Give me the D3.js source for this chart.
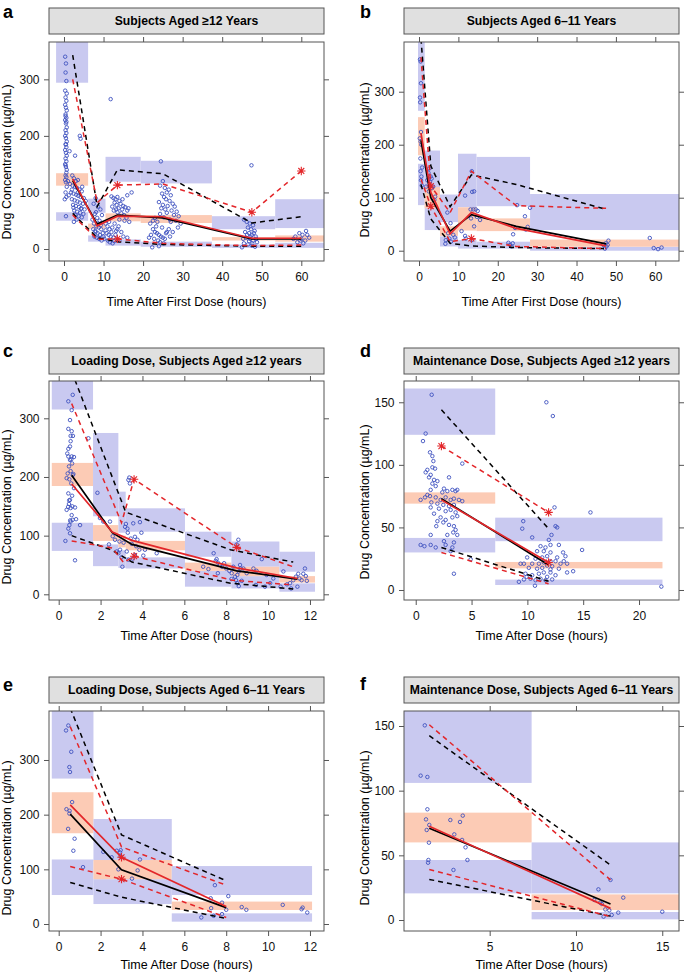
<!DOCTYPE html>
<html><head><meta charset="utf-8">
<script src="https://cdn.jsdelivr.net/npm/d3@7"></script>
<style>body{margin:0;background:#fff}svg{display:block}text{font-family:"Liberation Sans",Arial,Helvetica,sans-serif}</style>
</head><body><svg id="c" width="685" height="973"></svg>
<script>
// ---------- DATA ----------
// bins: [x0, x1, lower PI lo, lower PI hi, median PI lo, median PI hi, upper PI lo, upper PI hi]
const aBins=[[-2.0,6.1,50,65,112,134,294,420],[6.1,10.5,13,24,36,45,64,89],[10.5,19.4,6,17,49,63,119,163],[19.4,37.4,4,13,46,60,116,156],[37.4,53.4,2,8,15,21,35,58],[53.4,65.8,2,11,13,24,37,88]];
const bBins=[[-0.25,1.45,86,164,180,252,264,420],[1.45,5.33,39,85,80,120,115,189],[5.33,9.9,8,27,28,46,54,106],[9.9,14.6,4,20,38,82,82,183],[14.6,28.2,4,17,37,61,84,177],[28.2,66.5,0,7.5,7.5,21,39,107]];
const cBins=[[-0.33,1.64,74,122,184.6,224,315,420],[1.64,2.85,48,85,91,118,133,275],[2.85,3.2,45,75,80,100,105,175],[3.2,6.03,44,63,75,91,106.7,146.6],[6.03,8.25,13,40,40,54,64,106.7],[8.25,10.54,10,31,31,47,47,90],[10.54,12.24,4.4,18.7,20,31,38.5,72.6]];
const dBins=[[-1.04,7.12,30,41.6,69,78,124,161],[7.12,22.1,4,8.3,17.3,22.4,39,57.8]];
const eBins=[[-0.33,1.66,53,118,166,241,266,420],[1.66,5.4,36.5,82,82,117,116,192],[5.4,12.1,4.3,19.5,25.6,41,53,106]];
const fBins=[[0.0,7.43,20.6,46.4,60,83,106,200],[7.43,16.2,0.5,6.2,7.7,19.8,20.6,60]];

// percentile lines
const aMedBlack=[[2.2,121],[8.4,44],[13.5,60],[25,55],[47.5,18],[60,18]];
const aMedRed=[[2.2,124],[8.4,41],[13.5,58],[25,57],[47.5,19],[60,19]];
const aHiBlack=[[2.2,343],[8.4,75],[13.5,140],[25,133],[47.5,46],[60,57]];
const aHiRed=[[2.2,300],[8.4,82],[13.5,113],[25,115],[47.5,65],[60,138]];
const aLoBlack=[[2.2,63],[8.4,20],[13.5,13],[25,8],[47.5,5],[60,5]];
const aLoRed=[[2.2,60],[8.4,17],[13.5,18],[25,10],[47.5,6],[60,7]];
const aStars=[[13.5,113],[13.5,18],[47.5,65],[60,138]];

const bMedBlack=[[0.5,208],[3,100],[7.9,37],[13.3,68],[24.7,46],[47.5,13]];
const bMedRed=[[0.5,222],[3,110],[7.9,32],[13.3,72],[24.7,42],[47.5,9]];
const bHiBlack=[[0.5,400],[3,160],[7.9,83],[13.3,143],[24.7,125],[47.5,78]];
const bHiRed=[[0.5,365],[3,122],[7.9,72],[13.3,150],[24.7,85],[47.5,80]];
const bLoBlack=[[0.5,125],[3,60],[7.9,14],[13.3,9],[24.7,6],[47.5,4]];
const bLoRed=[[0.5,135],[3,84],[7.9,17],[13.3,23],[24.7,8],[47.5,4]];
const bStars=[[3,122],[3,84],[13.3,23]];

const cMedBlack=[[0.62,203],[2.56,105],[3.5,85],[8.5,40],[11.4,26]];
const cMedRed=[[0.62,188],[2.56,106],[3.5,92],[8.5,45],[11.4,27]];
const cHiBlack=[[0.62,380],[3.2,140],[8.2,76],[11.2,55]];
const cHiRed=[[0.62,325],[3.0,122],[3.6,196],[8.5,80],[11.2,47]];
const cLoBlack=[[0.62,100],[2.56,75],[3.5,55],[8.2,19],[11.2,9]];
const cLoRed=[[0.62,91],[2.56,79],[3.1,54],[3.6,65],[8.3,24],[11.2,16]];
const cStars=[[3.6,196],[3.6,65],[8.5,80]];

const dMedBlack=[[2.3,73],[11.9,20]];
const dMedRed=[[2.3,72],[11.9,22]];
const dHiBlack=[[2.3,144],[11.8,50]];
const dHiRed=[[2.3,115],[11.9,62]];
const dLoBlack=[[2.3,34],[11.9,7]];
const dLoRed=[[2.3,30],[11.9,5]];
const dStars=[[2.3,115],[11.9,62],[11.9,22]];

const eMedBlack=[[0.55,201],[3,99],[8,30]];
const eMedRed=[[0.55,218],[3,122],[8,32]];
const eHiBlack=[[0.55,395],[3,163],[8,79]];
const eHiRed=[[0.55,361],[3,141],[8,71]];
const eLoBlack=[[0.55,76],[3,49],[8,10]];
const eLoRed=[[0.55,105],[3,82],[8,12]];
const eStars=[[3,122],[3,82]];

const fMedBlack=[[1.5,71],[12,12.4]];
const fMedRed=[[1.5,72.5],[12,9]];
const fHiBlack=[[1.5,142.5],[12,42.5]];
const fHiRed=[[1.5,151],[12,31]];
const fLoBlack=[[1.5,31.4],[12,3]];
const fLoRed=[[1.5,39],[12,2.6]];
const fStars=[];

// observed concentrations [time, conc]
const aPoints=[[0.3,340],[0.5,328],[0.4,312],[0.6,297],[0.3,280],[0.7,275],[0.4,268],[0.6,262],[0.3,255],[0.5,250],[0.7,245],[0.4,238],[0.6,232],[0.3,228],[0.5,222],[0.7,215],[0.4,210],[0.6,205],[0.3,200],[0.5,196],[0.7,190],[0.4,185],[0.6,180],[0.3,175],[0.5,170],[0.7,165],[0.4,160],[0.6,155],[0.3,150],[0.5,145],[0.7,140],[0.4,130],[0.6,127],[0.3,122],[0.5,118],[0.7,110],[0.4,100],[0.6,92],[0.2,88],[0.5,58],[0.4,235],[0.6,225],[0.5,185],[0.4,148],[0.6,135],
[4.0,200],[4.2,195],[1.4,173],[2.8,165],[11.8,265],
[2.1,130],[2.5,125],[3,120],[3.5,122],[1.5,115],[2.2,112],[2.8,110],[3.3,108],[3.9,105],[4.5,102],[1.8,100],[2.4,98],[3.1,96],[3.6,94],[4.2,92],[5,90],[2.0,88],[2.7,86],[3.4,84],[4.0,82],[4.8,80],[2.3,78],[3.0,76],[3.8,74],[4.4,72],[5.2,70],[2.6,68],[3.3,66],[4.1,64],[4.9,62],[2.9,60],[3.7,58],[4.5,56],[3.2,52],[2.5,48],[4.3,71],[3.5,100],[2.0,105],[4.6,110],[1.2,95],[5.5,85],[1.0,120],[2.4,73],
[8.0,90],[7.5,80],[8.6,75],[9.2,70],[7.8,62],[8.4,55],[9.0,50],[7.6,45],[8.2,40],[8.8,38],[9.4,35],[7.9,32],[8.5,28],[9.1,25],[7.7,22],[8.3,20],[8.9,18],[9.5,15],[8.0,30],[8.7,45],[9.3,42],[7.4,35],[9.8,28],[8.1,65],[10,22],[7.2,52],[9.6,60],
[12.0,93],[12.5,90],[13.0,88],[13.5,92],[14.0,85],[12.8,82],[13.3,78],[14.3,80],[15.0,76],[12.2,75],[13.8,72],[14.7,70],[15.5,74],[16.0,68],[12.6,68],[13.5,65],[14.5,63],[15.2,60],[16.3,72],[16.0,95],[17.1,100],[14.8,88],[13.2,70],[15.8,55],[16.5,48],[14.0,52],[15.3,50],
[10.5,45],[11.0,40],[11.5,35],[12.0,30],[10.8,28],[11.3,25],[11.8,22],[12.5,20],[10.2,18],[11.1,15],[11.6,12],[12.3,10],[13.0,25],[13.5,35],[12.8,45],[14.0,15],[10.5,33],[12.2,38],[13.2,32],[11.4,48],[14.5,30],[13.8,40],[15.0,22],[16.0,20],[12.7,14],
[24.5,155],[25.0,120],[24.3,112],[25.5,108],[26.0,100],[26.5,105],[24.8,98],[25.3,92],[27.0,95],[25.8,88],[26.7,85],[24.0,83],[27.5,80],[25.0,78],[26.2,76],[28.0,75],[24.6,72],[25.6,70],[27.2,68],[28.5,66],[26.0,64],[24.3,62],[27.8,60],[29.0,58],[25.2,56],[26.8,52],[28.3,50],[29.5,45],[27.0,48],[28.8,38],[23.0,55],[22.5,50],[21.8,45],
[22.5,35],[23.0,30],[23.5,28],[24.0,25],[24.5,22],[25.0,20],[25.5,18],[23.8,15],[24.3,12],[25.2,10],[22.0,25],[22.8,18],[26.0,30],[26.5,35],[23.3,40],[24.0,5],[22.3,3],[25.8,28],[21.5,20],[26.8,22],[24.8,38],[27.5,30],[23.6,48],
[45.5,52],[46.2,48],[47.0,45],[47.8,42],[46.5,38],[47.3,35],[48.2,32],[45.8,30],[46.8,28],[47.5,25],[48.5,22],[46.0,20],[47.0,18],[47.8,15],[48.8,12],[45.5,10],[46.5,8],[47.5,6],[48.3,4],[45.0,3],[46.8,14],[47.2,22],[48.0,28],[46.3,25],[47.6,10],[48.6,18],[45.3,18],[47.4,148],
[58.5,22],[59.5,28],[60.3,25],[61.2,32],[60.0,18],[61.0,15],[59.0,12],[60.5,10],[62.0,20],[59.8,15],[58.0,18],[61.5,25]];

const bPoints=[[0.25,361],[0.4,357],[0.5,316],[0.25,289],[0.3,280],[0.5,224],[0.2,212],[0.4,206],[0.6,200],[0.35,174],[0.8,157],[0.5,133],[0.7,123],[0.4,150],[0.6,140],
[2.6,155],[3.2,136],[2.96,140],[2.8,130],[3.6,121],[4.1,102],[3.9,96],[2.4,147],[2.1,133],[1.8,121],[3.3,118],[2.5,112],
[7.2,72],[8.0,52],[7.4,33],[6.8,20],[6.7,13],[8.7,30],[9.1,25],[8.1,17],[7.7,23],
[11.7,104],[13.5,111],[14,112],[13.4,150],[13.1,78],[13.8,78],[14.4,78],[14.9,75],[14.7,64],[15.5,58],[14,46],[13.2,61],[10.8,37],[11.7,28],[11.9,23],[13.4,20],
[24.9,86],[26.9,65],[28.2,81],[23.9,31],[24.4,43],[27.1,40],[27.6,45],[22.7,15],[23.1,11],[23.5,8],[23.8,14],
[47.4,14],[47.6,8],[47.9,11],[47.2,4],[48.1,19],[46.8,11],
[58.6,24],[59.6,5],[60.7,3],[61.6,6]];

const cPoints=[[0.67,340],[0.46,329],[0.62,314],[0.54,297],[0.46,282],[0.62,278],[0.57,270],[0.68,270],[0.57,261],[0.46,248],[0.54,252],[0.41,240],[0.46,235],[0.62,235],[0.73,234],[0.54,229],[0.64,223],[0.49,218],[0.57,210],[0.43,206],[0.67,203],[0.38,198],[0.51,196],[0.6,189],[0.73,181],[0.46,172],[0.64,168],[0.54,161],[0.49,154],[0.45,149],[0.57,147],[0.78,148],[0.38,144],[0.62,135],[0.67,127],[0.57,124],[0.83,128],[0.51,118],[1.02,118],[0.46,112],[0.54,104],[0.32,91],[0.78,58],[0.6,230],[0.7,205],[0.5,160],[0.65,150],[0.55,126],
[1.42,266],[1.85,173],[1.97,130],[2.13,124],[2.45,124],[2.58,99],[2.69,93],[2.9,90],[2.93,76],[2.77,73],[2.85,70],[3.0,63],[3.04,47],[3.17,115],[3.21,120],[3.28,112],[3.37,199],[3.33,195],[3.4,189],[3.56,121],[3.64,98],[3.76,93],[3.85,76],[3.64,67],[3.53,61],[3.33,59],[3.49,86],[4.04,66],[3.88,123],[4.12,76],[4.68,70],[3.25,73],[3.44,95],[3.3,105],[3.7,82],[3.1,88],[2.4,85],[3.95,105],
[7.54,60],[7.5,57],[7.6,54],[7.7,50],[7.8,47],[7.9,53],[8.0,44],[8.15,40],[8.26,36],[8.34,47],[8.42,30],[8.47,24],[8.53,19],[8.6,14],[8.53,33],[8.6,39],[8.69,44],[8.58,93],[8.66,50],[8.82,44],[8.98,36],[7.15,43],[6.9,47],[7.4,70],[7.6,36],[8.25,26],[8.74,23],[8.5,85],[9.3,44],[9.45,40],[9.7,60],[9.93,33],[10.1,19],[9.85,13],[9.42,16],[10.25,27],[10.6,13],
[11.05,19],[11.2,24],[11.33,30],[11.44,35],[11.5,27],[11.6,24],[11.68,35],[11.76,44],[11.8,31],[11.85,23],[10.9,17],[11.1,10],[11.4,13],[10.73,39]];

const dPoints=[[1.43,156],[0.89,125],[0.65,119],[1.28,110],[1.49,107],[1.58,103],[1.49,98],[1.73,97],[1.04,96],[0.89,94],[1.34,92],[1.19,90],[1.64,88],[1.94,87],[2.98,90],[1.49,85],[1.79,83],[1.34,80],[2.53,81],[2.83,79],[3.28,80],[3.57,79],[3.72,80],[2.38,78],[1.04,76],[0.44,72],[0.83,74],[1.28,75],[1.79,74],[2.23,72],[2.68,74],[3.13,72],[3.42,73],[3.87,72],[4.17,71],[1.4,70],[1.94,69],[2.47,68],[2.98,67],[3.42,68],[1.34,66],[2.08,65],[2.68,63],[3.13,64],[3.57,62],[1.64,61],[2.23,58],[2.68,56],[3.28,58],[3.72,59],[1.94,55],[2.47,54],[2.98,52],[3.42,51],[3.57,48],[1.84,51],[3.36,46],[3.72,44],[2.83,44],[1.34,44],[2.53,39],[2.68,36],[3.42,38],[3.28,34],[1.79,34],[1.34,36],[0.78,35],[0.44,36],[3.13,31],[3.42,13],[4.92,24.5],[4.17,101],
[11.7,150],[12.28,139],[12.43,66],[15.65,62],[9.63,55],[9.54,49],[10.43,42],[12.52,51],[12.67,50],[12.16,44],[11.92,40],[12.07,36],[12.82,36],[14.9,32],[11.18,35],[11.62,34],[11.47,31],[10.87,31],[12.07,30],[13.2,30],[13.41,27],[11.77,27],[11.33,26],[12.67,26],[10.73,25],[9.98,26],[12.07,23],[12.52,23],[13.26,23],[11.47,22],[11.03,21],[10.43,21],[9.69,21],[12.97,21],[13.56,21],[11.77,19.5],[12.22,19],[11.33,17.7],[12.82,17],[10.87,17],[10.13,17.7],[9.39,21],[13.56,14],[14.1,15],[12.07,14],[11.47,14],[11.03,13],[10.43,11.8],[9.83,13],[11.77,10.5],[11.18,9],[12.22,8.4],[10.28,9],[9.69,8.4],[10.73,7.8],[11.62,7.8],[9.24,6.5],[9.93,10.5],[10.68,3.4],[12.07,16.5],[12.52,11.8],[22.0,2.7]];

const ePoints=[[0.46,363],[0.35,354],[0.6,315],[0.51,287],[0.54,278],[0.64,223],[0.37,210],[0.52,207],[0.51,202],[0.45,174],[0.76,156],[0.7,134],[1.16,104],[2.13,132],[2.53,122],[2.77,134],[2.96,135],[2.93,131],[2.85,100],[3.5,83],[3.77,98],[3.88,118],[2.96,124],[7.46,71],[7.26,47],[7.8,39],[8.1,51],[8.0,26],[6.81,12],[7.28,29],[7.4,15],[7.8,18],[8.74,31],[8.96,26],[10.7,35],[11.6,27],[11.65,30],[11.87,21]];

const fPoints=[[1.24,150.5],[1.0,111.6],[1.39,110.6],[1.39,85.6],[1.31,77.8],[1.5,73.5],[1.35,69.6],[1.48,59.8],[1.45,46.4],[1.43,44.3],[2.72,77.3],[2.95,66.2],[3.28,75.8],[3.44,80.7],[3.4,61.9],[3.6,56.2],[3.71,46.4],[2.9,38.7],[11.3,23.7],[11.06,15.5],[11.4,13.4],[11.5,12.4],[11.7,8.2],[11.93,7.5],[11.6,2.6],[12.07,3.9],[12.0,31],[12.74,17.3],[12.45,5.7],[15.0,6.4]];

// axis ticks
const ticks60=[0,10,20,30,40,50,60], ticks12=[0,2,4,6,8,10,12], ticksD=[0,5,10,15,20], ticksF=[5,10,15];
const yTicks300=[0,100,200,300], yTicks150=[0,50,100,150];

// ---------- LAYOUT ----------
const panels=[
 {id:"a",title:"Subjects Aged \u226512 Years",xlab:"Time After First Dose (hours)",bins:aBins,pts:aPoints,med:[aMedBlack,aMedRed],hi:[aHiBlack,aHiRed],lo:[aLoBlack,aLoRed],stars:aStars,xt:ticks60,yt:yTicks300,
  L:49,R:324,T:42,B:261,xdom:[-3.79,65.74],ydom:[-21.2,366],stripT:8,lx:3,ly:18,ytx:10.5,yty:162,xtY:306},
 {id:"b",title:"Subjects Aged 6\u201311 Years",xlab:"Time After First Dose (hours)",bins:bBins,pts:bPoints,med:[bMedBlack,bMedRed],hi:[bHiBlack,bHiRed],lo:[bLoBlack,bLoRed],stars:bStars,xt:ticks60,yt:yTicks300,
  L:404,R:679,T:42,B:261,xdom:[-3.81,66.02],ydom:[-19.4,393.8],stripT:8,lx:360,ly:18,ytx:368.5,yty:160,xtY:306},
 {id:"c",title:"Loading Dose, Subjects Aged \u226512 years",xlab:"Time After Dose (hours)",bins:cBins,pts:cPoints,med:[cMedBlack,cMedRed],hi:[cHiBlack,cHiRed],lo:[cLoBlack,cLoRed],stars:cStars,xt:ticks12,yt:yTicks300,
  L:49,R:324,T:381,B:600,xdom:[-0.463,12.67],ydom:[-9.7,363.6],stripT:348,lx:3,ly:357,ytx:10.5,yty:507,xtY:640},
 {id:"d",title:"Maintenance Dose, Subjects Aged \u226512 years",xlab:"Time After Dose (hours)",bins:dBins,pts:dPoints,med:[dMedBlack,dMedRed],hi:[dHiBlack,dHiRed],lo:[dLoBlack,dLoRed],stars:dStars,xt:ticksD,yt:yTicks150,
  L:404,R:679,T:381,B:600,xdom:[-1.05,23.58],ydom:[-8.0,167.0],stripT:348,lx:360,ly:357,ytx:368.5,yty:502,xtY:640},
 {id:"e",title:"Loading Dose, Subjects Aged 6\u201311 Years",xlab:"Time After Dose (hours)",bins:eBins,pts:ePoints,med:[eMedBlack,eMedRed],hi:[eHiBlack,eHiRed],lo:[eLoBlack,eLoRed],stars:eStars,xt:ticks12,yt:yTicks300,
  L:49,R:324,T:711,B:931,xdom:[-0.463,12.67],ydom:[-12.8,389.6],stripT:677,lx:3,ly:691,ytx:10.5,yty:838,xtY:969},
 {id:"f",title:"Maintenance Dose, Subjects Aged 6\u201311 Years",xlab:"Time After Dose (hours)",bins:fBins,pts:fPoints,med:[fMedBlack,fMedRed],hi:[fHiBlack,fHiRed],lo:[fLoBlack,fLoRed],stars:fStars,xt:ticksF,yt:yTicks150,
  L:404,R:679,T:711,B:931,xdom:[0.035,15.97],ydom:[-8.5,161.6],stripT:677,lx:360,ly:690,ytx:368.5,yty:828,xtY:969}
];

const BLUE="#c9c9f0",SALMON="#fccbb5",PT="#3f52bf",RED="#e3262a",FRAME="#555";
const svg=d3.select("#c");
const star={draw(ctx,size){const r=Math.sqrt(size)/2;for(let k=0;k<4;k++){const a=k*Math.PI/4;ctx.moveTo(-r*Math.cos(a),-r*Math.sin(a));ctx.lineTo(r*Math.cos(a),r*Math.sin(a));}}};

panels.forEach(p=>{
  const x=d3.scaleLinear().domain(p.xdom).range([p.L,p.R]);
  const y=d3.scaleLinear().domain(p.ydom).range([p.B,p.T]);
  const g=svg.append("g");
  const cid="clip"+p.id;
  svg.append("clipPath").attr("id",cid).append("rect").attr("x",p.L).attr("y",p.T).attr("width",p.R-p.L).attr("height",p.B-p.T);
  const body=g.append("g").attr("clip-path",`url(#${cid})`);
  // prediction interval boxes
  p.bins.forEach(b=>{
    [[b[2],b[3],BLUE],[b[6],b[7],BLUE],[b[4],b[5],SALMON]].forEach(([lo,hi,c])=>{
      body.append("rect").attr("x",x(b[0])).attr("width",x(b[1])-x(b[0]))
        .attr("y",y(hi)).attr("height",y(lo)-y(hi)).attr("fill",c);
    });
  });
  // observed points
  body.append("g").selectAll("circle").data(p.pts).join("circle")
    .attr("cx",d=>x(d[0])).attr("cy",d=>y(d[1])).attr("r",1.75)
    .attr("fill","none").attr("stroke",PT).attr("stroke-width",0.9);
  // lines
  const line=d3.line().x(d=>x(d[0])).y(d=>y(d[1]));
  const specs=[[p.hi[0],"#000",1],[p.lo[0],"#000",1],[p.hi[1],RED,1],[p.lo[1],RED,1],[p.med[0],"#000",0],[p.med[1],RED,0]];
  specs.forEach(([d,c,dash])=>{
    body.append("path").attr("d",line(d)).attr("fill","none").attr("stroke",c)
      .attr("stroke-width",dash?1.5:1.7).attr("stroke-dasharray",dash?"5,4":null);
  });
  body.append("g").selectAll("path").data(p.stars).join("path")
    .attr("transform",d=>`translate(${x(d[0])},${y(d[1])})`)
    .attr("d",d3.symbol().type(star).size(70)).attr("stroke",RED).attr("stroke-width",1.1).attr("fill","none");
  // frame
  g.append("rect").attr("x",p.L).attr("y",p.T).attr("width",p.R-p.L).attr("height",p.B-p.T)
    .attr("fill","none").attr("stroke",FRAME).attr("stroke-width",1);
  // axes
  const style=s=>{s.select(".domain").remove();s.selectAll("line").attr("stroke",FRAME);
    s.selectAll("text").attr("font-family","'Liberation Sans',Arial,sans-serif").attr("font-size",12).attr("fill","#111");};
  g.append("g").attr("transform",`translate(0,${p.B})`).call(d3.axisBottom(x).tickValues(p.xt).tickSize(5).tickPadding(6.5)).call(style);
  g.append("g").attr("transform",`translate(0,${p.T})`).call(d3.axisTop(x).tickValues(p.xt).tickSize(5).tickFormat("")).call(style);
  g.append("g").attr("transform",`translate(${p.L},0)`).call(d3.axisLeft(y).tickValues(p.yt).tickSize(5).tickPadding(4.5)).call(style);
  g.append("g").attr("transform",`translate(${p.R},0)`).call(d3.axisRight(y).tickValues(p.yt).tickSize(5).tickFormat("")).call(style);
  // strip
  g.append("rect").attr("x",p.L).attr("y",p.stripT).attr("width",p.R-p.L).attr("height",26)
    .attr("fill","#e0e0e0").attr("stroke",FRAME);
  g.append("text").attr("x",(p.L+p.R)/2).attr("y",p.stripT+13).attr("dy","0.36em").attr("text-anchor","middle")
    .attr("font-weight","bold").attr("font-size",12.2).text(p.title);
  // titles
  g.append("text").attr("x",(p.L+p.R)/2).attr("y",p.xtY).attr("text-anchor","middle").attr("font-size",12.5).text(p.xlab);
  g.append("text").attr("transform",`translate(${p.ytx},${p.yty}) rotate(-90)`).attr("text-anchor","middle").attr("font-size",12.5).text("Drug Concentration (\u00b5g/mL)");
  g.append("text").attr("x",p.lx).attr("y",p.ly).attr("font-weight","bold").attr("font-size",18).text(p.id);
});
</script></body></html>
